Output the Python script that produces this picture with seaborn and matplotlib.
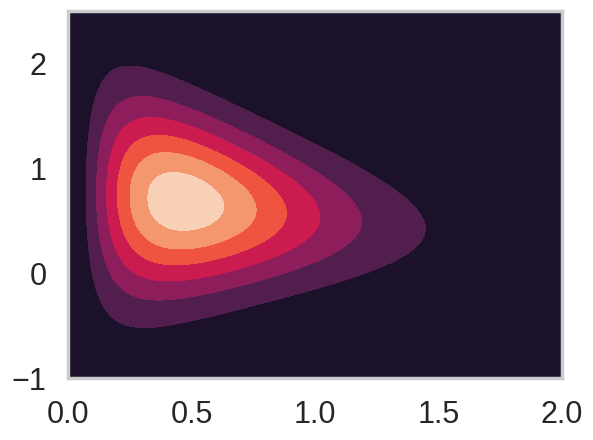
import numpy as np
import matplotlib
matplotlib.use("Agg")
import matplotlib.pyplot as plt
import seaborn as sns

# shape of the density (x on the horizontal, y on the vertical)
shape_k = 1.9          # power on x
rate_b = 4.13          # exponential fall-off in x
lam = 3.6              # how fast y spread narrows with x
lam_offset = 0.33      # keeps y spread finite near x = 0
mean_start = 0.80      # centre of y at x = 0
mean_slope = -0.26     # drift of y centre with x

x_range = [0.0, 2.0]
y_range = [-1.0, 2.5]
levels = [0.0, 0.15, 0.30, 0.45, 0.60, 0.75, 0.90, 1.05]
x_ticks = [0.0, 0.5, 1.0, 1.5, 2.0]
y_ticks = [-1, 0, 1, 2]

sns.set_theme(style="whitegrid", context="poster")
plt.rcParams['font.family'] = ['Liberation Sans', 'DejaVu Sans']

xs = np.linspace(x_range[0], x_range[1], 500)
ys = np.linspace(y_range[0], y_range[1], 500)
X, Y = np.meshgrid(xs, ys)
centre = mean_start + mean_slope * X
Z = X ** shape_k * np.exp(-rate_b * X - lam * (X + lam_offset) * (Y - centre) ** 2 / 2)
Z = Z / Z.max()

fig = plt.figure(figsize=(5.93, 4.4), dpi=100)
ax = fig.add_axes([68 / 593, 1 - 378 / 440, 494 / 593, 367 / 440])
ax.contourf(X, Y, Z, levels=levels, cmap=sns.color_palette("rocket", as_cmap=True))
ax.set_xlim(x_range)
ax.set_ylim(y_range)
ax.set_xticks(x_ticks)
ax.set_yticks(y_ticks)

fig.savefig("out.png", dpi=100)
